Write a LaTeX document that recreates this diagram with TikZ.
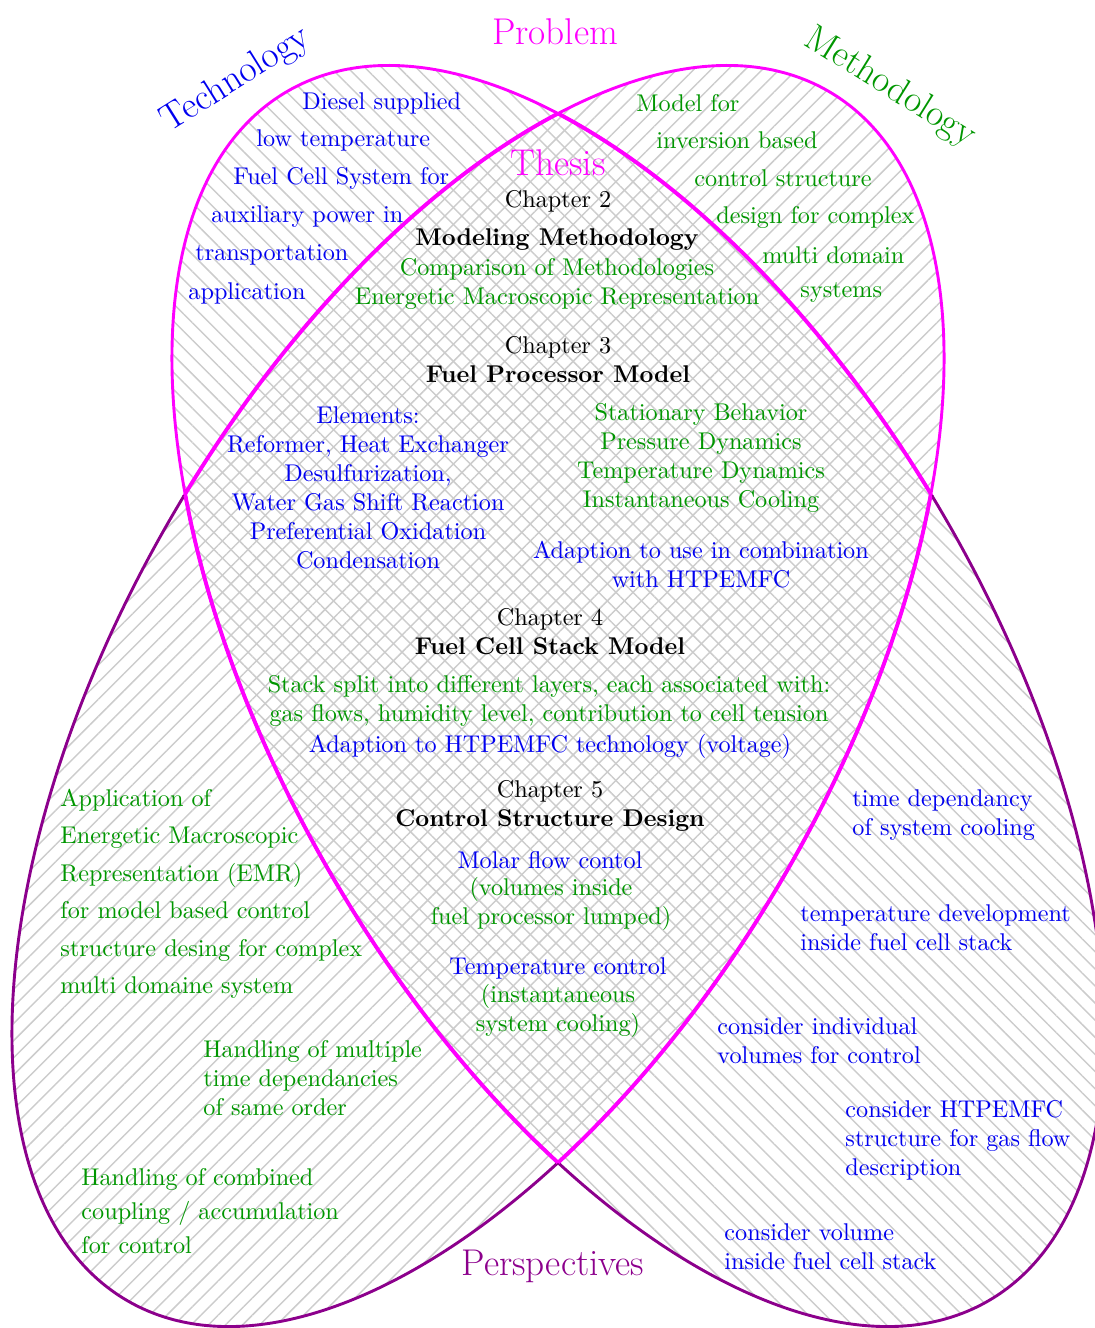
\documentclass[tikz,border=0pt]{standalone}
\usepackage{tikz}
\usetikzlibrary{patterns.meta}

\definecolor{probmag}{RGB}{255,0,255}
\definecolor{perspviolet}{RGB}{140,0,140}
\definecolor{methgreen}{RGB}{0,150,0}
\definecolor{techblue}{RGB}{0,0,240}

\begin{document}
\begin{tikzpicture}[
        x=0.01452cm, y=-0.01452cm,
        title/.style={font=\fontsize{15.4}{18}\selectfont, inner sep=0pt},
        chap/.style={align=center, inner sep=0pt},
        tech/.style={text=techblue, anchor=west, inner sep=0pt},
        meth/.style={text=methgreen, anchor=west, inner sep=0pt},
        side/.style={align=left, anchor=west, inner sep=0pt},
        techrot/.style={rotate around={-59.9:(638,696)}},
        methrot/.style={rotate around={59.9:(478,696)}},
        hatchtech/.style={pattern={Lines[angle=-45, distance=5pt, line width=0.6pt]}, pattern color=black!20},
        hatchmeth/.style={pattern={Lines[angle=45, distance=5pt, line width=0.6pt]}, pattern color=black!20},
        problem/.style={draw=probmag, line width=1.2pt},
        persp/.style={draw=perspviolet, line width=1.2pt}
    ]
    \useasboundingbox (0,0) rectangle (1094,1328);

    % Fields
    \path[hatchtech, techrot] (638,696) ellipse [x radius=699, y radius=355];
    \path[hatchmeth, methrot] (478,696) ellipse [x radius=699, y radius=355];
    \draw[black, line width=0.4pt, techrot] (638,696) ellipse [x radius=699, y radius=355];
    \draw[black, line width=0.4pt, methrot] (478,696) ellipse [x radius=699, y radius=355];

    % Outlines: problem above, perspectives below
    \begin{scope}
        \clip (-10,-10) rectangle (1104,495);
        \draw[problem, techrot] (638,696) ellipse [x radius=699, y radius=355];
        \draw[problem, methrot] (478,696) ellipse [x radius=699, y radius=355];
    \end{scope}
    \begin{scope}
        \clip (-10,495) rectangle (1104,1340);
        \draw[persp, techrot] (638,696) ellipse [x radius=699, y radius=355];
        \draw[persp, methrot] (478,696) ellipse [x radius=699, y radius=355];
    \end{scope}

    % Thesis outline
    \begin{scope}
        \clip[techrot] (638,696) ellipse [x radius=699, y radius=355];
        \draw[probmag, line width=1.6pt, methrot] (478,696) ellipse [x radius=699, y radius=355];
    \end{scope}
    \begin{scope}
        \clip[methrot] (478,696) ellipse [x radius=699, y radius=355];
        \draw[probmag, line width=1.6pt, techrot] (638,696) ellipse [x radius=699, y radius=355];
    \end{scope}

    % Labels
    \node[title, text=probmag] (problem) at (555,32) {Problem};
    \node[title, text=techblue, rotate=32] (technology) at (236,80) {Technology};
    \node[title, text=methgreen, rotate=-32] (methodology) at (890,88) {Methodology};
    \node[title, text=probmag] (thesis) at (558,163) {Thesis};
    \node[title, text=perspviolet] (perspectives) at (553,1266) {Perspectives};

    % Technology
    \node[tech] (tech1) at (302,103) {Diesel supplied};
    \node[tech] (tech2) at (256,140) {low temperature};
    \node[tech] (tech3) at (233,178) {Fuel Cell System for};
    \node[tech] (tech4) at (211,217) {auxiliary power in};
    \node[tech] (tech5) at (195,255) {transportation};
    \node[tech] (tech6) at (188,293) {application};

    % Methodology
    \node[meth] (meth1) at (636,103) {Model for};
    \node[meth] (meth2) at (656,140) {inversion based};
    \node[meth] (meth3) at (694,178) {control structure};
    \node[meth] (meth4) at (716,217) {design for complex};
    \node[meth] (meth5) at (762,255) {multi domain};
    \node[meth] (meth6) at (800,293) {systems};

    % Chapter 2
    \node[chap] (ch2) at (558,201) {Chapter 2};
    \node[chap] (ch2title) at (557,240) {\textbf{Modeling Methodology}};
    \node[chap, text=methgreen] (ch2meth) at (557,284) {Comparison of Methodologies\\Energetic Macroscopic Representation};

    % Chapter 3
    \node[chap] (ch3) at (558,360) {Chapter 3\\\textbf{Fuel Processor Model}};
    \node[chap, text=techblue] (ch3tech) at (368,488) {Elements:\\Reformer, Heat Exchanger\\Desulfurization,\\Water Gas Shift Reaction\\Preferential Oxidation\\Condensation};
    \node[chap, text=methgreen] (ch3meth) at (701,458) {Stationary Behavior\\Pressure Dynamics\\Temperature Dynamics\\Instantaneous Cooling};
    \node[chap, text=techblue] (ch3adapt) at (701,565) {Adaption to use in combination\\with HTPEMFC};

    % Chapter 4
    \node[chap] (ch4) at (550,632) {Chapter 4\\\textbf{Fuel Cell Stack Model}};
    \node[chap, text=methgreen] (ch4meth) at (549,701) {Stack split into different layers, each associated with:\\gas flows, humidity level, contribution to cell tension};
    \node[chap, text=techblue] (ch4tech) at (550,746) {Adaption to HTPEMFC technology (voltage)};

    % Chapter 5
    \node[chap] (ch5) at (550,806) {Chapter 5\\\textbf{Control Structure Design}};
    \node[chap, text=techblue] (ch5flow) at (550,860) {Molar flow contol};
    \node[chap, text=methgreen] (ch5vol) at (551,904) {(volumes inside\\fuel processor lumped)};
    \node[chap, text=techblue] (ch5temp) at (558,968) {Temperature control};
    \node[chap, text=methgreen] (ch5cool) at (558,1011) {(instantaneous\\system cooling)};

    % Perspectives, methodology side
    \node[side, text=methgreen] (emr) at (60,894) {Application of\\[3.5pt]Energetic Macroscopic\\[3.5pt]Representation (EMR)\\[3.5pt]for model based control\\[3.5pt]structure desing for complex\\[3.5pt]multi domaine system};
    \node[side, text=methgreen] (multi) at (203,1078) {Handling of multiple\\time dependancies\\of same order};
    \node[side, text=methgreen] (coupling) at (81,1211) {Handling of combined\\[1.9pt]coupling / accumulation\\[1.9pt]for control};

    % Perspectives, technology side
    \node[side, text=techblue] (cooling) at (852,815) {time dependancy\\of system cooling};
    \node[side, text=techblue] (tempdev) at (800,928) {temperature development\\inside fuel cell stack};
    \node[side, text=techblue] (volumes) at (717,1041) {consider individual\\volumes for control};
    \node[side, text=techblue] (gasflow) at (845,1140) {consider HTPEMFC\\structure for gas flow\\description};
    \node[side, text=techblue] (stackvol) at (724,1247) {consider volume\\inside fuel cell stack};

\end{tikzpicture}
\end{document}
